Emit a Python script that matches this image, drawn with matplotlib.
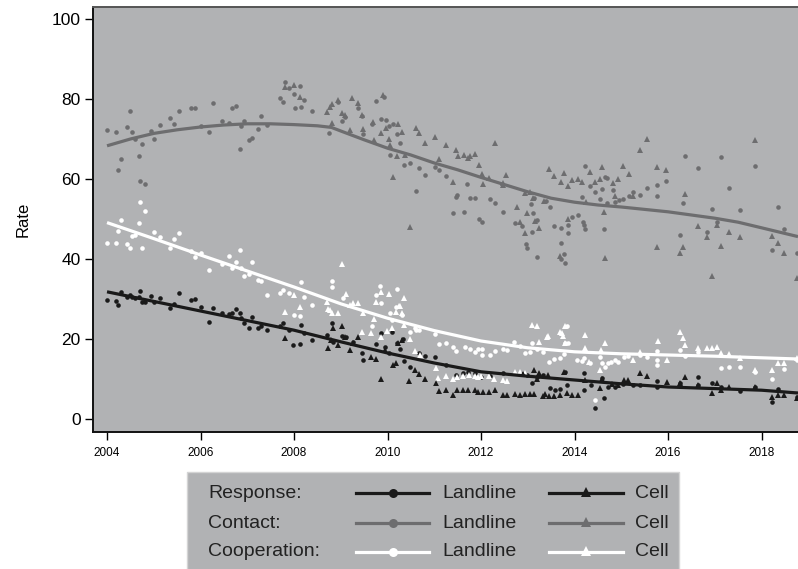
import matplotlib
matplotlib.use("Agg")
import matplotlib.pyplot as plt
from matplotlib.lines import Line2D
from matplotlib.patches import Rectangle

plt.rcParams['font.family'] = ['Liberation Sans', 'DejaVu Sans']

# --- data --------------------------------------------------------------
# Contact, landline
contact_land_x = [2004.0, 2004.2, 2004.24, 2004.29, 2004.43, 2004.49, 2004.53, 2004.59, 2004.68, 2004.71,
                  2004.74, 2004.81, 2004.94, 2005.01, 2005.13, 2005.35, 2005.44, 2005.53, 2005.8, 2005.89,
                  2006.01, 2006.18, 2006.27, 2006.45, 2006.6, 2006.68, 2006.75, 2006.84, 2006.86, 2006.93,
                  2007.03, 2007.1, 2007.22, 2007.29, 2007.42, 2007.7, 2007.76, 2007.8, 2007.9, 2007.99,
                  2008.03, 2008.13, 2008.14, 2008.22, 2008.39, 2008.75, 2008.93, 2009.03, 2009.1, 2009.36,
                  2009.46, 2009.47, 2009.66, 2009.75, 2009.87, 2009.92, 2009.96, 2010.03, 2010.05, 2010.12,
                  2010.21, 2010.27, 2010.36, 2010.47, 2010.6, 2010.68, 2010.8, 2011.02, 2011.11, 2011.26,
                  2011.46, 2011.48, 2011.71, 2011.76, 2011.87, 2011.41, 2011.64, 2011.96, 2012.03, 2012.19,
                  2012.29, 2012.46, 2012.72, 2012.87, 2012.96, 2012.98, 2013.06, 2013.14, 2013.19, 2013.2,
                  2013.4, 2013.48, 2013.12, 2013.08, 2013.56, 2013.7, 2013.71, 2013.7, 2013.77, 2013.79,
                  2013.85, 2013.85, 2013.94, 2014.07, 2014.15, 2014.19, 2014.21, 2014.23, 2014.33, 2014.44,
                  2014.55, 2014.58, 2014.64, 2014.7, 2014.82, 2014.87, 2014.95, 2015.04, 2015.17, 2015.26,
                  2015.4, 2015.56, 2015.76, 2015.77, 2015.96, 2016.26, 2016.31, 2016.83, 2016.95, 2017.04,
                  2017.3, 2017.54, 2018.22, 2018.35, 2018.47, 2018.75, 2014.22, 2014.66, 2014.7, 2016.37,
                  2016.64, 2017.13, 2017.85]
contact_land_y = [72.25, 71.75, 62.2, 64.9, 73.0, 76.9, 71.75, 70.1, 65.75, 59.4,
                  68.7, 58.7, 72.1, 70.1, 73.6, 75.2, 73.8, 77.1, 77.8, 77.75,
                  73.3, 71.8, 78.9, 74.4, 74.0, 77.7, 78.3, 67.5, 73.2, 74.4,
                  69.75, 70.3, 72.4, 75.75, 73.5, 80.25, 79.2, 84.25, 82.7, 81.3,
                  77.8, 83.3, 78.0, 79.75, 77.0, 71.4, 79.25, 74.6, 75.6, 77.8,
                  75.8, 71.2, 73.8, 79.6, 75.0, 80.5, 74.75, 73.2, 65.9, 73.8,
                  71.25, 69.1, 63.4, 63.9, 57.0, 62.7, 60.9, 63.1, 62.25, 60.8,
                  55.6, 56.0, 58.75, 55.2, 55.2, 51.5, 51.8, 50.0, 49.3, 54.9,
                  53.9, 51.8, 48.9, 48.25, 43.7, 42.7, 53.75, 55.2, 49.75, 40.6,
                  54.6, 53.1, 51.4, 46.7, 48.3, 47.8, 44.1, 40.0, 41.25, 39.1,
                  46.4, 48.6, 50.6, 51.1, 55.6, 49.2, 48.5, 47.4, 58.3, 56.7,
                  55.0, 57.5, 47.6, 53.9, 57.25, 54.25, 54.75, 55.0, 55.75, 56.8,
                  56.0, 57.8, 58.5, 55.8, 59.5, 46.0, 54.1, 46.7, 52.4, 49.2,
                  57.7, 52.25, 42.25, 52.9, 47.5, 41.6, 63.3, 60.6, 60.2, 65.8,
                  62.75, 65.4, 63.25]

# Contact, cell
contact_cell_x = [2007.8, 2007.99, 2008.13, 2008.7, 2008.77, 2008.81, 2008.82, 2008.93, 2009.03, 2009.09,
                  2009.19, 2009.25, 2009.36, 2009.45, 2009.47, 2009.69, 2009.72, 2009.85, 2009.91, 2009.96,
                  2010.04, 2010.22, 2010.32, 2010.05, 2010.2, 2010.37, 2010.11, 2010.47, 2010.6, 2010.68,
                  2010.8, 2011.02, 2011.11, 2011.26, 2011.41, 2011.46, 2011.5, 2011.64, 2011.72, 2011.77,
                  2011.88, 2011.95, 2012.02, 2012.05, 2012.18, 2012.29, 2012.46, 2012.53, 2012.48, 2012.76,
                  2012.83, 2012.93, 2012.95, 2012.98, 2013.05, 2013.12, 2013.16, 2013.23, 2013.35, 2013.46,
                  2013.56, 2013.7, 2013.78, 2013.85, 2013.85, 2013.68, 2013.95, 2014.07, 2014.16, 2014.25,
                  2014.33, 2014.44, 2014.55, 2014.58, 2014.63, 2014.66, 2014.82, 2014.87, 2014.94, 2015.04,
                  2015.16, 2015.26, 2015.4, 2015.56, 2015.76, 2015.77, 2015.96, 2016.26, 2016.31, 2016.36,
                  2016.65, 2016.84, 2016.95, 2017.04, 2017.14, 2017.3, 2017.54, 2017.85, 2018.22, 2018.35,
                  2018.47, 2018.75]
contact_cell_y = [83.1, 83.6, 80.6, 76.7, 78.1, 78.8, 74.1, 79.75, 76.5, 76.0,
                  72.25, 80.3, 79.0, 76.0, 72.6, 74.3, 69.8, 71.5, 81.0, 72.75,
                  69.9, 73.7, 71.8, 68.4, 65.75, 66.0, 60.5, 48.1, 72.8, 71.6,
                  68.9, 70.6, 65.1, 68.4, 59.2, 67.2, 65.8, 65.9, 65.2, 65.7,
                  66.3, 63.4, 61.2, 58.8, 60.3, 69.1, 58.4, 61.0, 58.9, 53.1,
                  49.3, 56.6, 46.4, 51.4, 56.8, 55.3, 49.6, 47.7, 54.5, 62.4,
                  60.8, 59.3, 61.4, 58.25, 49.9, 40.75, 59.75, 60.0, 59.3, 54.3,
                  61.8, 59.3, 60.0, 62.9, 51.8, 40.25, 59.1, 55.8, 60.0, 63.2,
                  61.3, 55.8, 67.2, 70.0, 62.9, 43.1, 62.3, 41.4, 43.1, 56.25,
                  48.3, 45.6, 35.8, 48.5, 43.3, 46.7, 45.4, 69.75, 45.8, 43.9,
                  41.6, 35.3]

# Cooperation, landline
coop_land_x = [2004.0, 2004.2, 2004.24, 2004.29, 2004.43, 2004.49, 2004.53, 2004.59, 2004.68, 2004.71,
               2004.74, 2004.81, 2005.01, 2005.13, 2005.35, 2005.44, 2005.53, 2005.8, 2005.89, 2006.01,
               2006.18, 2006.45, 2006.6, 2006.68, 2006.75, 2006.84, 2006.86, 2006.93, 2007.03, 2007.1,
               2007.22, 2007.29, 2007.42, 2007.7, 2007.76, 2007.9, 2007.99, 2008.13, 2008.14, 2008.22,
               2008.39, 2008.82, 2008.82, 2009.04, 2009.66, 2009.75, 2009.84, 2009.87, 2010.05, 2010.09,
               2010.18, 2010.2, 2010.32, 2010.47, 2010.59, 2010.61, 2010.68, 2011.02, 2011.11, 2011.25,
               2011.41, 2011.46, 2011.66, 2011.76, 2011.87, 2011.94, 2012.03, 2012.03, 2012.19, 2012.3,
               2012.48, 2012.55, 2012.71, 2012.83, 2012.94, 2013.05, 2013.1, 2013.19, 2013.33, 2013.45,
               2013.56, 2013.69, 2013.77, 2013.8, 2013.83, 2013.87, 2014.06, 2014.15, 2014.2, 2014.33,
               2014.44, 2014.55, 2014.58, 2014.65, 2014.72, 2014.79, 2014.87, 2014.94, 2015.05, 2015.15,
               2015.4, 2015.56, 2015.76, 2015.76, 2015.76, 2016.26, 2016.37, 2016.65, 2017.14, 2017.3,
               2017.54, 2017.85, 2018.22, 2018.47, 2018.75]
coop_land_y = [44.1, 43.9, 47.1, 49.75, 43.7, 42.7, 45.75, 46.0, 48.9, 54.3,
               42.7, 51.9, 46.7, 45.4, 42.8, 45.1, 46.4, 42.0, 40.4, 41.4,
               37.25, 38.7, 40.75, 37.7, 39.3, 42.2, 37.7, 35.8, 36.25, 39.2,
               34.75, 34.6, 31.0, 31.4, 32.25, 31.4, 26.1, 25.8, 34.25, 30.6,
               28.5, 34.6, 32.9, 30.2, 23.3, 31.0, 33.3, 29.1, 26.4, 24.75,
               28.1, 32.5, 26.0, 21.8, 22.7, 22.25, 22.25, 21.25, 18.7, 19.1,
               18.1, 17.1, 18.1, 17.5, 16.8, 17.4, 17.4, 16.0, 16.0, 17.1,
               17.4, 17.25, 19.3, 18.25, 16.4, 16.7, 18.9, 17.4, 16.8, 14.3,
               14.9, 15.2, 16.3, 18.9, 23.25, 18.9, 14.75, 14.5, 15.2, 13.9,
               4.75, 15.6, 13.9, 13.1, 13.9, 14.3, 14.75, 14.3, 15.6, 15.75,
               16.0, 15.6, 14.75, 17.0, 13.5, 17.25, 15.8, 16.7, 12.7, 13.1,
               13.1, 11.8, 10.0, 12.4, 14.75]

# Cooperation, cell
coop_cell_x = [2007.8, 2007.99, 2008.13, 2008.7, 2008.73, 2008.77, 2008.82, 2008.93, 2009.02, 2009.11,
               2009.2, 2009.27, 2009.37, 2009.45, 2009.47, 2009.65, 2009.7, 2009.75, 2009.85, 2009.87,
               2009.98, 2010.04, 2010.09, 2010.19, 2010.25, 2010.27, 2010.32, 2010.35, 2010.35, 2010.47,
               2010.59, 2010.7, 2011.03, 2011.03, 2011.09, 2011.26, 2011.41, 2011.49, 2011.62, 2011.74,
               2011.87, 2011.94, 2012.01, 2012.17, 2012.28, 2012.46, 2012.55, 2012.73, 2012.83, 2012.94,
               2013.08, 2013.2, 2013.23, 2013.42, 2013.44, 2013.69, 2013.73, 2013.8, 2013.76, 2013.8,
               2014.22, 2014.22, 2014.32, 2014.55, 2014.57, 2014.65, 2015.26, 2015.39, 2015.78, 2015.97,
               2016.26, 2016.31, 2016.36, 2016.65, 2016.83, 2016.95, 2017.04, 2017.14, 2017.3, 2017.54,
               2017.86, 2018.23, 2018.36, 2018.47, 2018.75]
coop_cell_y = [26.75, 31.0, 28.1, 29.3, 27.4, 27.25, 26.6, 26.4, 38.7, 31.25,
               28.5, 28.9, 29.1, 21.7, 26.4, 21.4, 24.9, 29.3, 20.4, 31.8,
               22.1, 31.2, 22.7, 26.8, 28.25, 28.3, 26.4, 30.2, 23.5, 20.0,
               17.1, 16.0, 12.7, 9.1, 10.2, 10.75, 10.0, 10.6, 10.75, 11.0,
               10.8, 10.4, 10.75, 10.75, 10.0, 9.75, 9.5, 11.8, 11.8, 11.6,
               23.5, 23.25, 19.2, 20.6, 20.75, 21.8, 21.4, 23.25, 20.75, 19.1,
               21.0, 17.7, 14.3, 12.25, 17.25, 19.1, 14.75, 16.8, 19.5, 14.75,
               21.7, 20.2, 18.5, 17.7, 17.7, 17.7, 18.1, 16.4, 16.25, 15.2,
               12.25, 12.25, 13.9, 13.9, 15.2]

# Response, landline
resp_land_x = [2004.0, 2004.2, 2004.24, 2004.29, 2004.43, 2004.49, 2004.53, 2004.59, 2004.68, 2004.71,
               2004.74, 2004.81, 2004.94, 2005.01, 2005.13, 2005.35, 2005.44, 2005.53, 2005.8, 2005.89,
               2006.01, 2006.18, 2006.27, 2006.45, 2006.6, 2006.68, 2006.75, 2006.84, 2006.86, 2006.93,
               2007.03, 2007.1, 2007.22, 2007.29, 2007.42, 2007.7, 2007.76, 2007.9, 2007.98, 2008.13,
               2008.14, 2008.22, 2008.39, 2008.7, 2008.81, 2008.84, 2009.02, 2009.11, 2009.27, 2009.45,
               2009.47, 2009.75, 2009.87, 2009.94, 2010.04, 2010.09, 2010.21, 2010.27, 2010.34, 2010.35,
               2010.47, 2010.68, 2010.8, 2011.02, 2011.26, 2011.46, 2011.62, 2011.73, 2011.88, 2011.99,
               2012.19, 2012.48, 2012.88, 2012.98, 2013.1, 2013.2, 2013.33, 2013.48, 2013.58, 2013.69,
               2013.8, 2013.83, 2014.21, 2014.21, 2014.36, 2014.44, 2014.58, 2014.64, 2014.72, 2014.87,
               2015.03, 2015.26, 2015.4, 2015.76, 2015.76, 2016.26, 2016.65, 2016.65, 2016.95, 2017.14,
               2017.54, 2017.86, 2018.23, 2018.36, 2018.75]
resp_land_y = [29.75, 29.4, 28.6, 31.75, 30.4, 31.1, 30.6, 30.2, 30.6, 31.9,
               29.25, 29.25, 30.75, 29.3, 30.2, 27.7, 28.75, 31.4, 29.7, 30.0,
               28.0, 24.2, 27.8, 26.4, 26.25, 26.4, 27.5, 26.6, 25.2, 23.9,
               22.7, 25.4, 22.7, 23.3, 22.25, 23.3, 24.1, 22.25, 18.5, 18.75,
               23.5, 21.4, 19.75, 21.0, 23.9, 19.3, 20.75, 20.6, 19.3, 16.4,
               14.75, 18.7, 21.4, 18.1, 16.6, 21.7, 19.1, 17.4, 19.9, 14.5,
               13.1, 16.6, 15.75, 15.6, 13.4, 11.0, 11.6, 11.8, 11.4, 10.6,
               10.75, 11.6, 11.25, 10.9, 8.9, 10.4, 11.0, 7.7, 7.25, 7.4,
               11.8, 8.5, 11.4, 7.25, 8.5, 2.7, 10.2, 5.3, 8.1, 7.9,
               8.7, 8.5, 8.5, 9.5, 7.9, 9.1, 10.4, 8.5, 9.1, 7.9,
               7.1, 7.9, 4.3, 7.4, 5.6]

# Response, cell
resp_cell_x = [2007.8, 2008.73, 2008.8, 2008.83, 2008.93, 2009.03, 2009.09, 2009.2, 2009.27, 2009.37,
               2009.65, 2009.75, 2009.85, 2009.95, 2010.11, 2010.19, 2010.23, 2010.32, 2010.46, 2010.59,
               2010.68, 2010.8, 2011.03, 2011.1, 2011.25, 2011.41, 2011.48, 2011.62, 2011.73, 2011.87,
               2011.94, 2012.05, 2012.17, 2012.3, 2012.46, 2012.55, 2012.73, 2012.83, 2012.9, 2012.94,
               2013.05, 2013.13, 2013.14, 2013.19, 2013.23, 2013.33, 2013.36, 2013.44, 2013.45, 2013.56,
               2013.69, 2013.78, 2013.83, 2013.94, 2014.07, 2014.22, 2014.55, 2014.58, 2014.81, 2014.94,
               2015.05, 2015.15, 2015.4, 2015.56, 2015.97, 2016.26, 2016.37, 2016.65, 2016.95, 2017.04,
               2017.14, 2017.3, 2017.86, 2018.23, 2018.36, 2018.47, 2018.75]
resp_cell_y = [20.2, 17.7, 19.75, 22.7, 18.5, 23.25, 20.4, 17.25, 19.1, 20.6,
               15.6, 14.9, 10.0, 17.25, 13.5, 14.1, 18.9, 19.75, 9.5, 12.25,
               11.25, 9.9, 8.9, 7.1, 7.25, 6.0, 7.25, 7.25, 7.25, 7.25,
               6.8, 6.8, 6.8, 7.25, 6.0, 6.0, 6.25, 6.0, 11.25, 6.2,
               6.2, 12.25, 6.2, 9.9, 11.6, 5.75, 6.2, 11.0, 5.75, 5.75,
               5.9, 11.8, 6.4, 6.0, 5.9, 9.75, 7.7, 9.9, 8.75, 8.5,
               9.75, 9.75, 11.6, 10.75, 9.3, 8.9, 10.4, 8.5, 6.6, 8.9,
               7.25, 7.9, 8.1, 5.6, 6.0, 6.0, 5.2]

# smoothed trend lines (one per measure)
trend_x = [2004.0, 2005.0, 2006.0, 2007.0, 2008.0, 2009.0, 2010.0, 2011.0, 2012.0, 2013.0,
           2014.0, 2015.0, 2016.0, 2017.0, 2018.0, 2018.78]
resp_trend = [31.8, 29.4, 27.0, 24.6, 22.2, 19.3, 16.5, 14.0, 11.8, 10.7,
              9.75, 8.8, 8.0, 7.6, 7.2, 6.5]
coop_trend = [49.1, 45.1, 41.0, 37.0, 33.0, 28.8, 25.2, 22.1, 19.5, 17.8,
              16.8, 16.3, 16.0, 15.7, 15.3, 15.0]
contact_trend_x = [2004.0, 2004.5, 2005.0, 2005.5, 2006.0, 2006.5, 2007.0, 2007.5, 2008.0, 2008.5,
                   2008.8, 2009.0, 2009.5, 2010.0, 2010.5, 2011.0, 2011.5, 2012.0, 2012.5, 2013.0,
                   2013.5, 2014.0, 2014.5, 2015.0, 2015.5, 2016.0, 2016.5, 2017.0, 2017.5, 2018.0, 2018.78]
contact_trend = [68.3, 70.0, 71.4, 72.3, 73.0, 73.5, 73.8, 73.8, 73.6, 73.3,
                 72.9, 72.0, 69.8, 67.7, 66.0, 64.0, 62.3, 60.4, 58.6, 56.8,
                 55.2, 54.2, 53.5, 53.0, 52.4, 51.8, 51.0, 50.2, 49.2, 47.8, 45.6]

bg = '#b1b2b4'
c_resp = '#1a1a1a'
c_contact = '#6d6d6f'
c_coop = '#ffffff'

W, H = 798, 569
fig = plt.figure(figsize=(W / 100, H / 100), dpi=100)
ax = fig.add_axes([93 / W, 1 - 432 / H, 1 - 93 / W, (432 - 7) / H])
ax.set_facecolor(bg)

# scatter points
for xs, ys, col in [(contact_land_x, contact_land_y, c_contact),
                    (coop_land_x, coop_land_y, c_coop),
                    (resp_land_x, resp_land_y, c_resp)]:
    ax.plot(xs, ys, 'o', color=col, ms=3.3, mew=0, clip_on=True)
for xs, ys, col in [(contact_cell_x, contact_cell_y, c_contact),
                    (coop_cell_x, coop_cell_y, c_coop),
                    (resp_cell_x, resp_cell_y, c_resp)]:
    ax.plot(xs, ys, '^', color=col, ms=4.3, mew=0, clip_on=True)

# trend lines
ax.plot(contact_trend_x, contact_trend, color=c_contact, lw=2.3, solid_capstyle='butt')
ax.plot(trend_x, coop_trend, color=c_coop, lw=2.3, solid_capstyle='butt')
ax.plot(trend_x, resp_trend, color=c_resp, lw=2.3, solid_capstyle='butt')

ax.set_xlim(2003.7, 2018.78)
ax.set_ylim(-3.25, 103)
ax.set_xticks([2004, 2006, 2008, 2010, 2012, 2014, 2016, 2018])
ax.set_yticks([0, 20, 40, 60, 80, 100])
ax.tick_params(axis='x', direction='out', length=6, width=1, labelsize=8.5, pad=5)
ax.tick_params(axis='y', direction='out', length=6, width=1, labelsize=12.5, pad=3)
ax.set_ylabel('Rate', fontsize=12, labelpad=15)

for side in ['left', 'bottom']:
    ax.spines[side].set_color('#111111')
    ax.spines[side].set_linewidth(1.4)
ax.spines['top'].set_color('#555555')
ax.spines['top'].set_linewidth(1.4)
ax.spines['right'].set_visible(False)


# legend drawn by hand in figure pixels
def fx(px):
    return px / W


def fy(py):
    return 1 - py / H


fig.add_artist(Rectangle((fx(187), fy(575)), fx(679) - fx(187), fy(472) - fy(575),
                         facecolor=bg, edgecolor='#d4d4d4', lw=1.0, transform=fig.transFigure))

rows = [('Response:', c_resp, 493), ('Contact:', c_contact, 523), ('Cooperation:', c_coop, 552)]
for label, col, py in rows:
    fig.text(fx(208), fy(py), label, fontsize=14, color='#222222', va='center', ha='left')
    fig.add_artist(Line2D([fx(356), fx(429)], [fy(py), fy(py)], color=col, lw=2.3,
                          transform=fig.transFigure))
    fig.add_artist(Line2D([fx(392.5)], [fy(py)], marker='o', ms=6.5, color=col, mew=0,
                          transform=fig.transFigure))
    fig.text(fx(442), fy(py), 'Landline', fontsize=14, color='#222222', va='center', ha='left')
    fig.add_artist(Line2D([fx(549), fx(623)], [fy(py), fy(py)], color=col, lw=2.3,
                          transform=fig.transFigure))
    fig.add_artist(Line2D([fx(586)], [fy(py) + 0.002], marker='^', ms=7.5, color=col, mew=0,
                          transform=fig.transFigure))
    fig.text(fx(635), fy(py), 'Cell', fontsize=14, color='#222222', va='center', ha='left')

fig.savefig('out.png', dpi=100)
